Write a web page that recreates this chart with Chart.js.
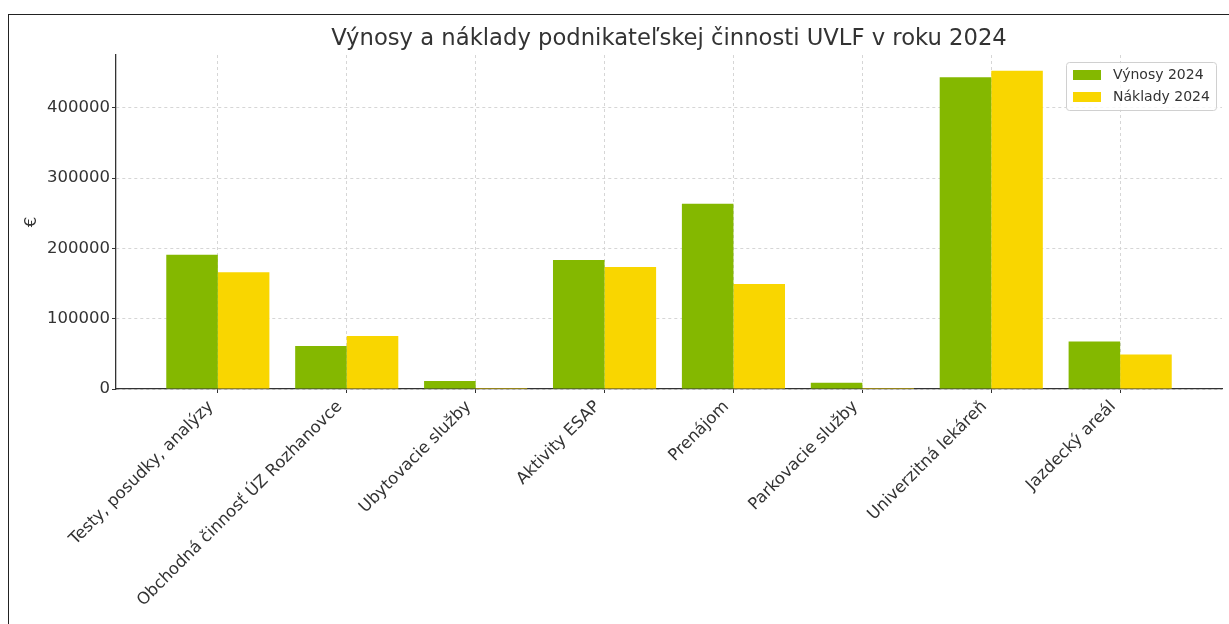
<!DOCTYPE html>
<html>
<head>
<meta charset="utf-8">
<script src="https://cdn.jsdelivr.net/npm/chart.js@4"></script>
<style>
  html, body { margin: 0; padding: 0; background: #fff; overflow: hidden; }
  #frame { position: absolute; left: 8px; top: 14px; width: 1240px; height: 700px;
           border-left: 1.5px solid #222; border-top: 1.5px solid #222; }
  #wrap { position: absolute; left: 0; top: 0; width: 1229px; height: 624px; }
</style>
</head>
<body>
<div id="frame"></div>
<div id="wrap"><canvas id="chart"></canvas></div>
<script>
const categories = [
  "Testy, posudky, analýzy",
  "Obchodná činnosť ÚZ Rozhanovce",
  "Ubytovacie služby",
  "Aktivity ESAP",
  "Prenájom",
  "Parkovacie služby",
  "Univerzitná lekáreň",
  "Jazdecký areál"
];
const vynosy2024 = [191000, 61000, 11500, 183500, 263500, 9000, 443500, 67500];
const naklady2024 = [166000, 75500, 1500, 173500, 149500, 1500, 452500, 49000];
const yTicks = [0, 100000, 200000, 300000, 400000];
const chartTitle = "Výnosy a náklady podnikateľskej činnosti UVLF v roku 2024";

const font = "'DejaVu Sans', sans-serif";

// title centred over the plot area, legend inside the plot (upper right)
const extras = {
  id: "extras",
  afterDraw(chart) {
    const ctx = chart.ctx;
    const area = chart.chartArea;
    ctx.save();
    ctx.fillStyle = "#333";
    ctx.font = "22.7px " + font;
    ctx.textAlign = "center";
    ctx.textBaseline = "middle";
    ctx.fillText(chartTitle, (area.left + area.right) / 2, 39);

    const w = 150, h = 48;
    const x = area.right - w - 6, y = area.top + 7;
    ctx.fillStyle = "rgba(255,255,255,0.8)";
    ctx.strokeStyle = "#d0d0d0";
    ctx.lineWidth = 1;
    ctx.beginPath();
    ctx.roundRect(x + 0.5, y + 0.5, w, h, 3);
    ctx.fill();
    ctx.stroke();
    ctx.font = "14px " + font;
    ctx.textAlign = "left";
    chart.data.datasets.forEach((ds, i) => {
      const cy = y + 13 + i * 22;
      ctx.fillStyle = ds.backgroundColor;
      ctx.fillRect(x + 7, cy - 5, 28, 10);
      ctx.fillStyle = "#333";
      ctx.fillText(ds.label, x + 47, cy);
    });
    ctx.restore();
  }
};

new Chart(document.getElementById("chart"), {
  type: "bar",
  data: {
    datasets: [
      { label: "Výnosy 2024", data: vynosy2024.map((v, i) => ({ x: i, y: v })),
        backgroundColor: "#84b800", categoryPercentage: 0.8, barPercentage: 1.0 },
      { label: "Náklady 2024", data: naklady2024.map((v, i) => ({ x: i, y: v })),
        backgroundColor: "#f9d600", categoryPercentage: 0.8, barPercentage: 1.0 }
    ]
  },
  options: {
    responsive: true,
    maintainAspectRatio: false,
    animation: false,
    layout: { padding: { left: 0, right: 7, top: 55, bottom: 0 } },
    plugins: {
      legend: { display: false },
      tooltip: { enabled: false },
      title: { display: false }
    },
    scales: {
      x: {
        type: "linear",
        offset: false,
        min: -0.79,
        max: 7.79,
        afterBuildTicks: (scale) => { scale.ticks = categories.map((c, i) => ({ value: i })); },
        afterFit: (scale) => { scale.height = 235; },
        ticks: {
          autoSkip: false,
          minRotation: 45,
          maxRotation: 45,
          padding: 4,
          labelOffset: -7,
          color: "#333",
          font: { family: font, size: 16.5 },
          callback: (v) => categories[v]
        },
        grid: { offset: false, color: "#d6d6d6", tickColor: "#333", tickLength: 4, tickBorderDash: [] },
        border: { color: "#333", width: 1.3, dash: [3, 3] }
      },
      y: {
        min: 0,
        max: 475000,
        afterBuildTicks: (scale) => { scale.ticks = yTicks.map(v => ({ value: v })); },
        afterFit: (scale) => { scale.width = 116; },
        ticks: {
          padding: 2,
          color: "#333",
          font: { family: font, size: 16.5 },
          callback: (v) => String(v)
        },
        title: {
          display: true,
          text: "€",
          color: "#333",
          font: { family: font, size: 16.5 },
          padding: { top: 22, bottom: 0 }
        },
        grid: { color: "#d6d6d6", tickColor: "#333", tickLength: 4, tickBorderDash: [] },
        border: { color: "#333", width: 1.3, dash: [3, 3] }
      }
    }
  },
  plugins: [extras]
});
</script>
</body>
</html>
